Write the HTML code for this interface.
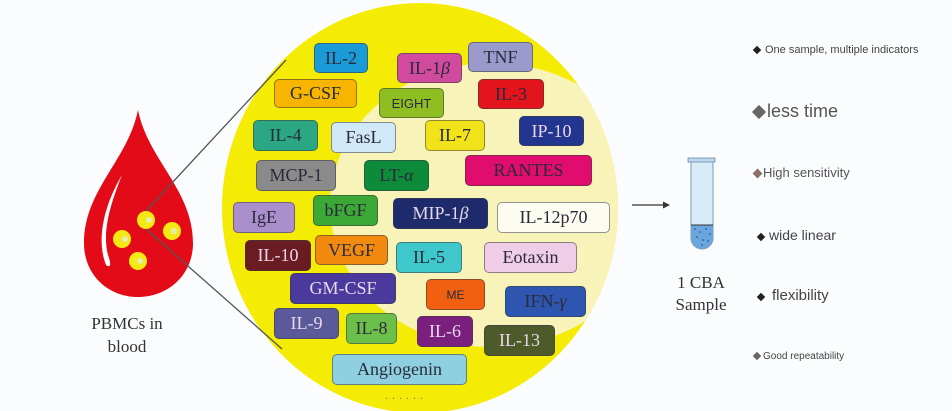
<!DOCTYPE html>
<html><head><style>
body{margin:0;width:952px;height:411px;background:#fff;position:relative;overflow:hidden;font-family:"Liberation Serif",serif}
.b{position:absolute;border:1.5px solid rgba(60,60,60,.55);border-radius:5px;box-sizing:border-box;display:flex;align-items:center;justify-content:center;font-size:18px;color:#2a2a3a;white-space:nowrap}
.l{color:#e8d8e8}
.t{position:absolute;font-family:"Liberation Sans",sans-serif;color:#444;white-space:nowrap}
.d{display:inline-block;transform:rotate(45deg);margin-right:5px}
</style></head><body>
<svg width="952" height="411" style="position:absolute;left:0;top:0">
<defs><clipPath id="c"><ellipse cx="420" cy="208" rx="198" ry="205"/></clipPath></defs>
<rect x="0" y="0" width="952" height="411" fill="#fbfcfd"/>
<ellipse cx="420" cy="208" rx="198" ry="205" fill="#f5ec06"/>
<ellipse cx="492" cy="205" rx="162" ry="142" fill="#f8f3b8" clip-path="url(#c)"/>
<path d="M138,110 C128,160 84,190 84,243 C84,275 108,297 138,297 C168,297 193,275 193,243 C193,190 148,160 138,110Z" fill="#e30b17"/>
<path d="M122,175 C104,205 96,240 106,265 C110,268 112,266 108,255 C102,232 110,205 122,175Z" fill="#fff"/>
<g fill="#f2ea12"><circle cx="146" cy="220" r="9"/><circle cx="122" cy="239" r="9"/><circle cx="172" cy="231" r="9"/><circle cx="138" cy="261" r="9"/></g>
<g fill="#e8ecb0"><circle cx="149" cy="220" r="3"/><circle cx="125" cy="239" r="3"/><circle cx="174" cy="231" r="3"/><circle cx="140" cy="261" r="3"/></g>
<line x1="146" y1="211" x2="286" y2="60" stroke="#555" stroke-width="1.3"/>
<line x1="146" y1="229" x2="282" y2="349" stroke="#555" stroke-width="1.3"/>
<line x1="632" y1="205" x2="666" y2="205" stroke="#333" stroke-width="1.3"/>
<polygon points="670,205 663,201.5 663,208.5" fill="#333"/>
<rect x="688" y="158" width="27" height="4" fill="#bcd8ec" stroke="#6a8aaa" stroke-width=".8"/>
<path d="M691,162 L691,238 A11,11 0 0 0 713,238 L713,162Z" fill="#d8ecf8" stroke="#7a9aba" stroke-width="1"/>
<path d="M691,225 L691,238 A11,11 0 0 0 713,238 L713,225Z" fill="#6aa6dc"/>
<g fill="#2a5a9a"><circle cx="695" cy="229" r=".9"/><circle cx="700" cy="232" r=".9"/><circle cx="706" cy="229" r=".9"/><circle cx="710" cy="234" r=".9"/><circle cx="697" cy="237" r=".9"/><circle cx="703" cy="240" r=".9"/><circle cx="708" cy="241" r=".9"/><circle cx="702" cy="245" r=".9"/></g>
<line x1="691" y1="225" x2="713" y2="225" stroke="#333"/>
<text x="406" y="399" font-size="12" fill="#777" letter-spacing="4" text-anchor="middle">......</text>
</svg>
<div class="b" style="left:314px;top:43px;width:54px;height:30px;background:#1a9ad6">IL-2</div>
<div class="b" style="left:397px;top:53px;width:65px;height:30px;background:#d04a9e">IL-1 <i>β</i></div>
<div class="b" style="left:468px;top:42px;width:65px;height:30px;background:#9a9acc">TNF</div>
<div class="b" style="left:274px;top:79px;width:83px;height:29px;background:#f7b500">G-CSF</div>
<div class="b" style="left:379px;top:88px;width:65px;height:30px;background:#8fbe22;font-family:'Liberation Sans',sans-serif;font-size:13px">EIGHT</div>
<div class="b" style="left:478px;top:79px;width:66px;height:30px;background:#e3141c">IL-3</div>
<div class="b" style="left:253px;top:120px;width:65px;height:31px;background:#2ba883">IL-4</div>
<div class="b" style="left:331px;top:122px;width:65px;height:31px;background:#d0e8f8">FasL</div>
<div class="b" style="left:425px;top:120px;width:60px;height:31px;background:#f2e21a">IL-7</div>
<div class="b l" style="left:519px;top:116px;width:65px;height:30px;background:#22358f">IP-10</div>
<div class="b" style="left:256px;top:160px;width:80px;height:31px;background:#8a8a8a">MCP-1</div>
<div class="b" style="left:364px;top:160px;width:65px;height:31px;background:#0d8a3a">LT- <i>α</i></div>
<div class="b" style="left:465px;top:155px;width:127px;height:31px;background:#e00c6e">RANTES</div>
<div class="b" style="left:233px;top:202px;width:62px;height:31px;background:#a98fcc">IgE</div>
<div class="b" style="left:313px;top:195px;width:65px;height:31px;background:#3ca836">bFGF</div>
<div class="b l" style="left:393px;top:198px;width:95px;height:31px;background:#1d2a6b">MIP-1 <i>β</i></div>
<div class="b" style="left:497px;top:202px;width:113px;height:31px;background:#fdfcf0">IL-12p70</div>
<div class="b l" style="left:245px;top:240px;width:66px;height:31px;background:#6b1b22">IL-10</div>
<div class="b" style="left:315px;top:235px;width:73px;height:30px;background:#f28a10">VEGF</div>
<div class="b" style="left:396px;top:242px;width:66px;height:31px;background:#3ec8cc">IL-5</div>
<div class="b" style="left:484px;top:242px;width:93px;height:31px;background:#f0cde6">Eotaxin</div>
<div class="b l" style="left:290px;top:273px;width:106px;height:31px;background:#4a3a9e">GM-CSF</div>
<div class="b" style="left:426px;top:279px;width:59px;height:31px;background:#f06010;font-family:'Liberation Sans',sans-serif;font-size:12px">ME</div>
<div class="b" style="left:505px;top:286px;width:81px;height:31px;background:#2e56b0">IFN- <i>γ</i></div>
<div class="b l" style="left:274px;top:308px;width:65px;height:31px;background:#5a5a9a">IL-9</div>
<div class="b" style="left:346px;top:313px;width:51px;height:31px;background:#6cc04a">IL-8</div>
<div class="b l" style="left:417px;top:316px;width:56px;height:31px;background:#7a1f7e">IL-6</div>
<div class="b l" style="left:484px;top:325px;width:71px;height:31px;background:#4d5a2a">IL-13</div>
<div class="b" style="left:332px;top:354px;width:135px;height:31px;background:#8fd0e0">Angiogenin</div>
<div style="position:absolute;left:67px;top:312px;width:120px;text-align:center;font-size:17px;line-height:23px;color:#333">PBMCs in<br>blood</div>
<div style="position:absolute;left:661px;top:272px;width:80px;text-align:center;font-size:17px;line-height:22px;color:#333">1 CBA<br>Sample</div>
<div class="t" style="left:754px;top:44px;font-size:11px"><span class="d" style="width:6px;height:6px;background:#222"></span>One sample, multiple indicators</div>
<div class="t" style="left:754px;top:101px;font-size:18px;color:#555"><span class="d" style="width:10px;height:10px;background:#666;margin-right:3px"></span>less time</div>
<div class="t" style="left:754px;top:165px;font-size:13px;color:#555"><span class="d" style="width:7px;height:7px;background:#8a7068;margin-right:2px"></span>High sensitivity</div>
<div class="t" style="left:758px;top:227px;font-size:14px"><span class="d" style="width:6px;height:6px;background:#222"></span>wide linear</div>
<div class="t" style="left:758px;top:287px;font-size:15px"><span class="d" style="width:6px;height:6px;background:#222;margin-right:8px"></span>flexibility</div>
<div class="t" style="left:754px;top:351px;font-size:10px"><span class="d" style="width:6px;height:6px;background:#666;margin-right:3px"></span>Good repeatability</div>
</body></html>
